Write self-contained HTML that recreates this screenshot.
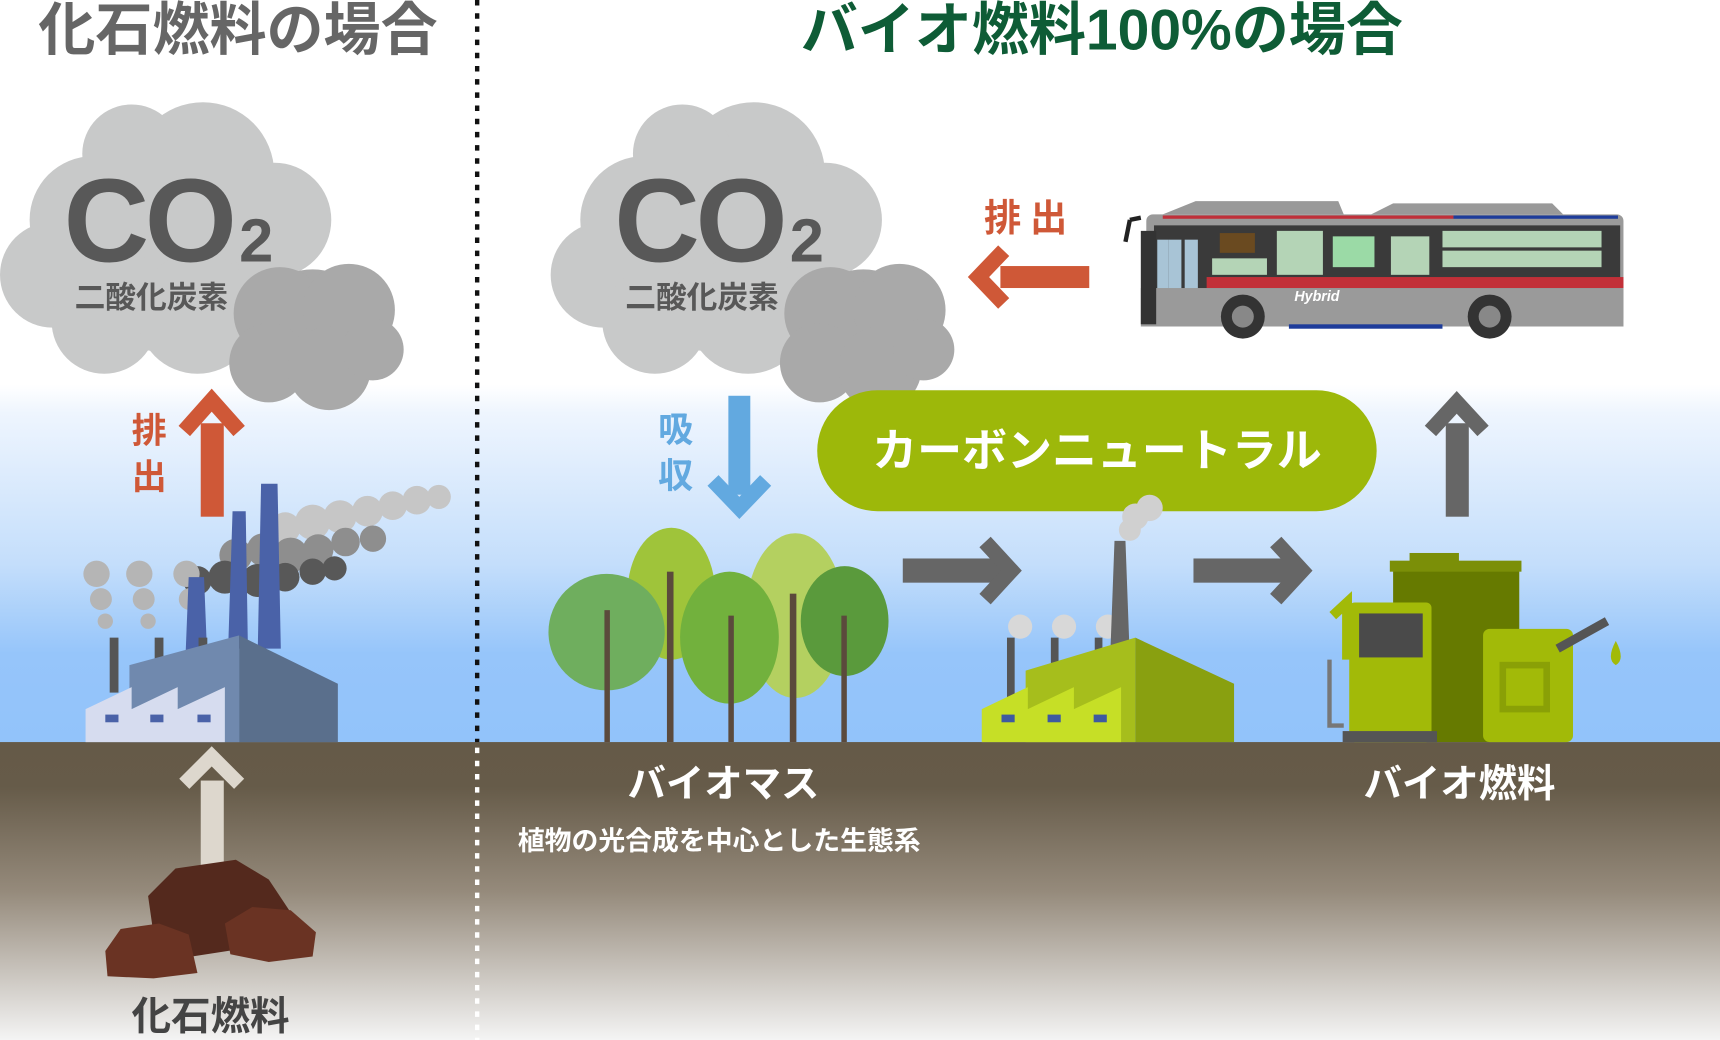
<!DOCTYPE html>
<html><head><meta charset="utf-8"><style>
html,body{margin:0;padding:0;background:#fff}
svg{display:block}
text{font-family:"Liberation Sans","Noto Sans CJK JP",sans-serif;font-weight:bold}
</style></head><body>
<svg width="1720" height="1040" viewBox="0 0 1568 946" preserveAspectRatio="none" xmlns="http://www.w3.org/2000/svg">
<defs>
<linearGradient id="sky" x1="0" y1="0" x2="0" y2="1">
<stop offset="0" stop-color="#ffffff"/><stop offset="0.08" stop-color="#eef5fe"/><stop offset="0.5" stop-color="#c4defb"/><stop offset="0.75" stop-color="#96c5fa"/><stop offset="1" stop-color="#92c3fa"/></linearGradient>
<linearGradient id="ground" x1="0" y1="0" x2="0" y2="1">
<stop offset="0" stop-color="#655a48"/><stop offset="0.15" stop-color="#665b49"/><stop offset="0.5" stop-color="#958a7b"/><stop offset="1" stop-color="#f4f4f4"/></linearGradient>
<g id="cloud">
<g fill="#c8c9c9">
<circle cx="150" cy="225" r="95"/><circle cx="85" cy="200" r="58"/><circle cx="185" cy="158" r="65"/><circle cx="250" cy="200" r="52"/><circle cx="48" cy="250" r="48"/><circle cx="95" cy="292" r="48"/><circle cx="180" cy="285" r="55"/><circle cx="120" cy="140" r="45"/>
</g>
<g fill="#a9a9a9">
<circle cx="285" cy="300" r="55"/><circle cx="255" cy="285" r="42"/><circle cx="318" cy="282" r="42"/><circle cx="245" cy="330" r="36"/><circle cx="300" cy="335" r="38"/><circle cx="340" cy="318" r="28"/>
</g>
<text x="58" y="238" font-size="108" fill="#585858" letter-spacing="-4">CO</text>
<text x="218" y="238" font-size="56" fill="#585858">2</text>
<text x="68" y="280" font-size="28" fill="#585858">二酸化炭素</text>
</g>
</defs>
<rect x="0" y="0" width="1568" height="946" fill="#fff"/>
<rect x="0" y="350" width="1568" height="326" fill="url(#sky)"/>
<rect x="0" y="675" width="1568" height="271" fill="url(#ground)"/>

<line x1="435" y1="0" x2="435" y2="675" stroke="#111" stroke-width="4" stroke-dasharray="5,7"/>
<line x1="435" y1="680" x2="435" y2="946" stroke="#fff" stroke-width="4" stroke-dasharray="5,7"/>

<text x="35" y="45" font-size="52" fill="#666">化石燃料の場合</text>
<text x="730" y="45" font-size="52" fill="#0e5c36">バイオ燃料100%の場合</text>

<use href="#cloud"/>
<use href="#cloud" x="502"/>

<rect x="183" y="385" width="21" height="85" fill="#cf5837"/>
<polyline points="168,392 193,364 218,392" fill="none" stroke="#cf5837" stroke-width="14"/>
<text x="120" y="403" font-size="32" fill="#cf5837">排</text>
<text x="120" y="445" font-size="32" fill="#cf5837">出</text>

<g fill="#c6c6c6">
<circle cx="260" cy="480" r="14"/><circle cx="285" cy="475" r="16"/><circle cx="310" cy="470" r="15"/><circle cx="335" cy="465" r="14"/><circle cx="358" cy="460" r="13"/><circle cx="380" cy="455" r="13"/><circle cx="400" cy="452" r="11"/><circle cx="245" cy="495" r="12"/>
</g>
<g fill="#8e8e8e">
<circle cx="215" cy="505" r="15"/><circle cx="240" cy="500" r="15"/><circle cx="265" cy="505" r="16"/><circle cx="290" cy="500" r="14"/><circle cx="315" cy="493" r="13"/><circle cx="340" cy="490" r="12"/>
</g>
<g fill="#585858">
<circle cx="180" cy="528" r="13"/><circle cx="205" cy="525" r="15"/><circle cx="235" cy="528" r="15"/><circle cx="260" cy="525" r="13"/><circle cx="285" cy="520" r="12"/><circle cx="305" cy="517" r="11"/>
</g>
<g fill="#b5b5b5">
<circle cx="88" cy="522" r="12"/><circle cx="92" cy="545" r="10"/><circle cx="96" cy="565" r="7"/>
<circle cx="127" cy="522" r="12"/><circle cx="131" cy="545" r="10"/><circle cx="135" cy="565" r="7"/>
<circle cx="170" cy="522" r="12"/><circle cx="173" cy="545" r="10"/><circle cx="178" cy="565" r="7"/>
</g>
<g fill="#4a62a8">
<polygon points="172,525 186,525 189,600 169,600"/><polygon points="212,465 224,465 226,590 208,590"/><polygon points="238,440 253,440 256,590 235,590"/>
</g>
<g fill="#555"><rect x="100" y="580" width="8" height="50"/><rect x="141" y="580" width="8" height="50"/><rect x="181" y="580" width="8" height="50"/></g>
<polygon points="118,605 218,578 218,675 118,675" fill="#7089ae"/>
<polygon points="218,578 308,622 308,675 218,675" fill="#5a6f8c"/>
<polygon points="78,645 120,625 120,645 162,625 162,645 205,625 205,675 78,675" fill="#d6dcef"/>
<g fill="#4a62a8"><rect x="96" y="650" width="12" height="7"/><rect x="137" y="650" width="12" height="7"/><rect x="180" y="650" width="12" height="7"/></g>

<rect x="183" y="710" width="21" height="78" fill="#ddd7cd"/>
<polyline points="168,713 193,688 218,713" fill="none" stroke="#ddd7cd" stroke-width="13"/>

<polygon points="135,815 160,790 215,782 245,800 265,830 240,860 175,870 140,850" fill="#54291d"/>
<polygon points="96,865 110,845 145,840 172,850 180,885 140,890 98,888" fill="#6a3323"/>
<polygon points="205,840 230,825 265,828 288,848 285,870 245,875 210,868" fill="#6a3323"/>
<text x="120" y="937" font-size="36" fill="#444">化石燃料</text>

<rect x="664" y="360" width="20" height="90" fill="#62a9e0"/>
<polyline points="650,437 674,462 698,437" fill="none" stroke="#62a9e0" stroke-width="14"/>
<text x="600" y="402" font-size="32" fill="#62a9e0">吸</text>
<text x="600" y="444" font-size="32" fill="#62a9e0">収</text>

<rect x="745" y="355" width="510" height="110" rx="55" fill="#9db80a"/>
<text x="1000" y="424" font-size="41" fill="#fff" text-anchor="middle">カーボンニュートラル</text>

<text x="897" y="210" font-size="34" fill="#cf5837" letter-spacing="8">排出</text>
<rect x="912" y="242" width="81" height="20" fill="#cf5837"/>
<polyline points="915,228 892,252 915,276" fill="none" stroke="#cf5837" stroke-width="14"/>

<g>
<rect x="1045" y="195" width="435" height="100" rx="6" fill="#9a9a9a"/>
<polygon points="1060,195 1090,183 1220,183 1225,195" fill="#999"/>
<polygon points="1250,195 1270,185 1415,185 1425,195" fill="#999"/>
<rect x="1060" y="196" width="265" height="3" fill="#c0303a"/>
<rect x="1325" y="196" width="150" height="3" fill="#1e3c9a"/>
<rect x="1052" y="205" width="425" height="75" fill="#3a3a3a"/>
<rect x="1055" y="218" width="10" height="75" fill="#a8c4d6"/>
<rect x="1065" y="218" width="12" height="75" fill="#a8c4d6"/>
<rect x="1080" y="218" width="12" height="75" fill="#a8c4d6"/>
<rect x="1112" y="212" width="32" height="18" fill="#6a4a20"/>
<rect x="1105" y="235" width="50" height="15" fill="#b4d4b6"/>
<rect x="1164" y="210" width="42" height="40" fill="#b4d4b6"/>
<rect x="1215" y="215" width="38" height="28" fill="#9bdaa6"/>
<rect x="1268" y="215" width="35" height="35" fill="#b4d4b6"/>
<rect x="1315" y="210" width="145" height="15" fill="#b4d4b6"/>
<rect x="1315" y="228" width="145" height="15" fill="#b4d4b6"/>
<rect x="1100" y="252" width="380" height="10" fill="#c23038"/>
<rect x="1040" y="262" width="440" height="35" fill="#9a9a9a"/>
<rect x="1175" y="295" width="140" height="4" fill="#1e3c9a"/>
<text x="1180" y="274" font-size="13" fill="#fff" font-style="italic">Hybrid</text>
<circle cx="1133" cy="288" r="20" fill="#333"/><circle cx="1133" cy="288" r="10" fill="#888"/>
<circle cx="1358" cy="288" r="20" fill="#333"/><circle cx="1358" cy="288" r="10" fill="#888"/>
<rect x="1040" y="210" width="14" height="85" fill="#333"/>
<path d="M1030,200 L1040,198 M1030,200 L1026,220" stroke="#222" stroke-width="4" fill="none"/>
</g>

<rect x="1318" y="385" width="21" height="85" fill="#666"/>
<polyline points="1304,392 1328,366 1352,392" fill="none" stroke="#666" stroke-width="14"/>

<rect x="823" y="508" width="90" height="22" fill="#666"/>
<polyline points="898,493 922,519 898,545" fill="none" stroke="#666" stroke-width="14"/>
<rect x="1088" y="508" width="90" height="22" fill="#666"/>
<polyline points="1163,493 1187,519 1163,545" fill="none" stroke="#666" stroke-width="14"/>

<g>
<ellipse cx="612" cy="540" rx="40" ry="60" fill="#9fc43a"/>
<ellipse cx="725" cy="560" rx="45" ry="75" fill="#b4d060"/>
<circle cx="553" cy="575" r="53" fill="#6fae5e"/>
<ellipse cx="665" cy="580" rx="45" ry="60" fill="#72b13d"/>
<ellipse cx="770" cy="565" rx="40" ry="50" fill="#5a9a3c"/>
<g fill="#5b4a3c">
<rect x="551" y="555" width="5" height="120"/><rect x="608" y="520" width="6" height="155"/><rect x="664" y="560" width="5" height="115"/><rect x="720" y="540" width="6" height="135"/><rect x="767" y="560" width="5" height="115"/>
</g>
</g>

<g fill="#d8d8d8"><circle cx="930" cy="570" r="11"/><circle cx="970" cy="570" r="11"/><circle cx="1010" cy="570" r="11"/></g>
<g fill="#d0d0d0"><circle cx="1035" cy="470" r="12"/><circle cx="1048" cy="462" r="12"/><circle cx="1030" cy="482" r="10"/></g>
<polygon points="1016,492 1026,492 1030,600 1012,600" fill="#666"/>
<g fill="#555"><rect x="918" y="580" width="7" height="55"/><rect x="958" y="580" width="7" height="55"/><rect x="998" y="580" width="7" height="55"/></g>
<polygon points="935,610 1035,580 1035,675 935,675" fill="#a6be1c"/>
<polygon points="1035,580 1125,622 1125,675 1035,675" fill="#89a010"/>
<polygon points="895,645 937,625 937,645 979,625 979,645 1022,625 1022,675 895,675" fill="#c6df26"/>
<g fill="#3e5aa0"><rect x="913" y="650" width="12" height="7"/><rect x="955" y="650" width="12" height="7"/><rect x="997" y="650" width="12" height="7"/></g>

<rect x="1270" y="515" width="115" height="160" fill="#667a00"/>
<rect x="1267" y="510" width="120" height="10" fill="#7b8f08"/>
<rect x="1285" y="503" width="45" height="8" fill="#7b8f08"/>
<rect x="1230" y="548" width="75" height="127" rx="5" fill="#a2ba08"/>
<rect x="1239" y="558" width="58" height="40" fill="#4a4a4a"/>
<rect x="1224" y="665" width="86" height="10" fill="#555"/>
<path d="M1215,560 L1228,548 L1228,600" stroke="#a2ba08" stroke-width="9" fill="none"/>
<path d="M1212,600 L1212,660 L1225,660" stroke="#777" stroke-width="4" fill="none"/>
<rect x="1352" y="572" width="82" height="103" rx="6" fill="#a2ba08"/>
<path d="M1420,590 L1465,565" stroke="#555" stroke-width="8"/>
<path d="M1473,583 Q1482,600 1473,605 Q1464,600 1473,583" fill="#a2ba08"/>
<rect x="1370" y="605" width="40" height="40" fill="none" stroke="#8aa006" stroke-width="6"/>

<text x="572" y="725" font-size="35" fill="#fff">バイオマス</text>
<text x="472" y="773" font-size="24.5" fill="#fff" font-weight="normal">植物の光合成を中心とした生態系</text>
<text x="1243" y="725" font-size="35" fill="#fff">バイオ燃料</text>
</svg>
</body></html>
